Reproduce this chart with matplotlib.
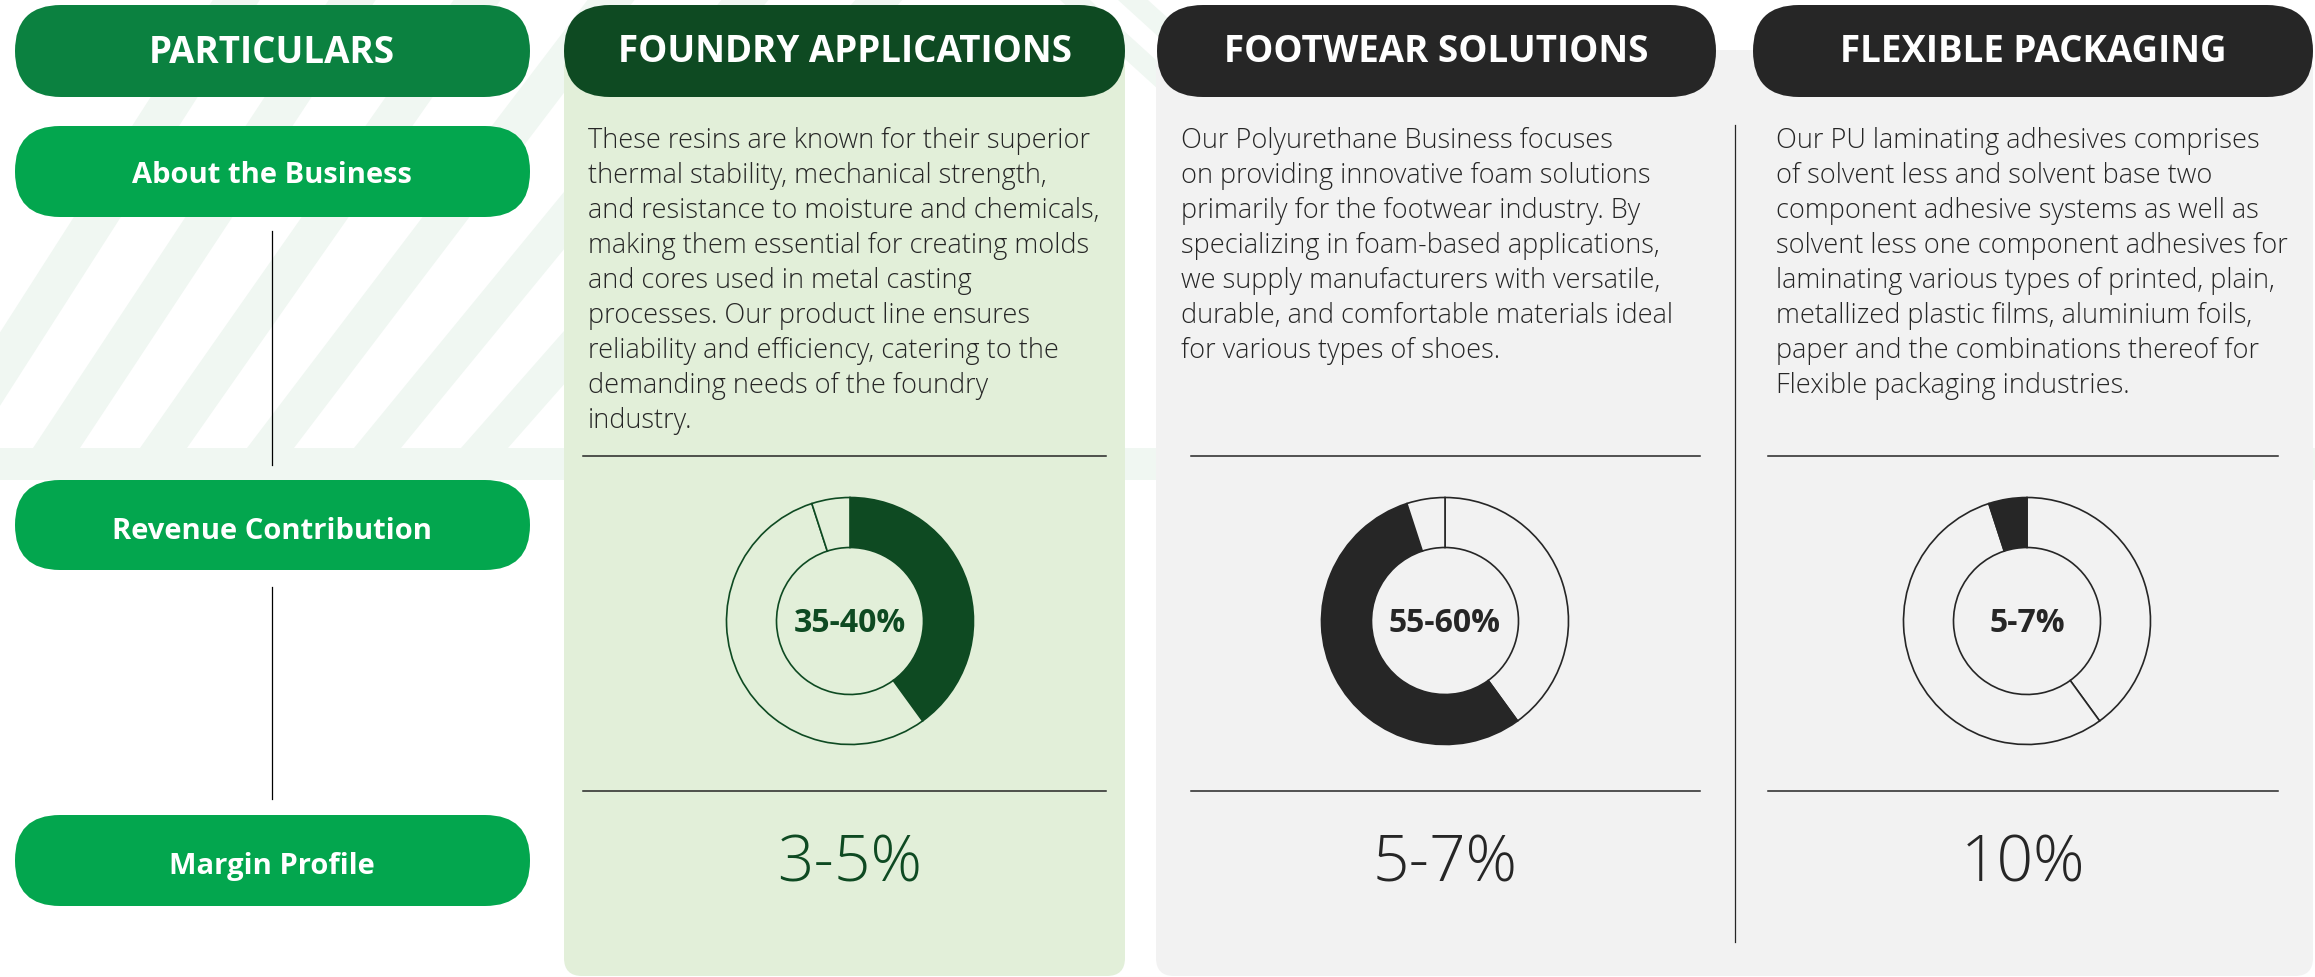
import matplotlib
matplotlib.use("Agg")
import matplotlib.pyplot as plt
from matplotlib.patches import FancyBboxPatch, Polygon, Rectangle

# ---- data ----
segments = ["Foundry Applications", "Footwear Solutions", "Flexible Packaging"]
headers = ["FOUNDRY APPLICATIONS", "FOOTWEAR SOLUTIONS", "FLEXIBLE PACKAGING"]
row_labels = ["About the Business", "Revenue Contribution", "Margin Profile"]
donut_shares = [40, 55, 5]          # slice sizes shared by all three donuts
highlight = [0, 1, 2]               # which slice is dark in each donut
revenue_labels = ["35-40%", "55-60%", "5-7%"]
margin_labels = ["3-5%", "5-7%", "10%"]
about_text = [
    ["These resins are known for their superior",
     "thermal stability, mechanical strength,",
     "and resistance to moisture and chemicals,",
     "making them essential for creating molds",
     "and cores used in metal casting",
     "processes. Our product line ensures",
     "reliability and efficiency, catering to the",
     "demanding needs of the foundry",
     "industry."],
    ["Our Polyurethane Business focuses",
     "on providing innovative foam solutions",
     "primarily for the footwear industry. By",
     "specializing in foam-based applications,",
     "we supply manufacturers with versatile,",
     "durable, and comfortable materials ideal",
     "for various types of shoes."],
    ["Our PU laminating adhesives comprises",
     "of solvent less and solvent base two",
     "component adhesive systems as well as",
     "solvent less one component adhesives for",
     "laminating various types of printed, plain,",
     "metallized plastic films, aluminium foils,",
     "paper and the combinations thereof for",
     "Flexible packaging industries."],
]

# ---- styling ----
W, H = 2315, 977
FONT = "Open Sans"
DARK_GREEN = "#0E4A22"
MID_GREEN = "#0B8140"
BRIGHT_GREEN = "#03A64E"
CHARCOAL = "#262626"
LIGHT_GREEN_BG = "#E2EFD9"
GRAY_BG = "#F2F2F2"
STRIPE = "#F0F7F2"

col_x = [(564, 1125), (1157, 1716), (1753, 2313)]
col_dark = [DARK_GREEN, CHARCOAL, CHARCOAL]
col_bg = [LIGHT_GREEN_BG, GRAY_BG, GRAY_BG]
donut_cx = [850, 1445, 2027]
text_left = [588, 1181, 1776]
rule_x = [(583, 1106), (1191, 1700), (1768, 2278)]


def Y(y):
    # measurements are taken top-down in pixels
    return H - y


def pill(ax, x0, x1, y0, y1, color, r=46):
    ax.add_patch(FancyBboxPatch((x0, Y(y1)), x1 - x0, y1 - y0,
                                boxstyle=f"round,pad=0,rounding_size={r}",
                                fc=color, ec="none", zorder=3))


fig = plt.figure(figsize=(W / 100, H / 100), dpi=100)
ax = fig.add_axes([0, 0, 1, 1])
ax.set_facecolor("white")

# background stripes
for xb, s in [(-74, 0.64), (33, 0.66), (140, 0.70), (247, 0.76), (354, 0.82), (461, 0.88)]:
    pts = [(xb, Y(448)), (xb + 47, Y(448)), (xb + 47 + s * 448, Y(0)), (xb + s * 448, Y(0))]
    ax.add_patch(Polygon(pts, closed=True, fc=STRIPE, ec="none", zorder=0))
for xt, s in [(1118, 1.1), (1060, 1.1)]:
    pts = [(xt, Y(0)), (xt + 30, Y(0)), (xt + 30 + s * 200, Y(200)), (xt + s * 200, Y(200))]
    ax.add_patch(Polygon(pts, closed=True, fc=STRIPE, ec="none", zorder=0))
ax.add_patch(Rectangle((0, Y(480)), W, 32, fc=STRIPE, ec="none", zorder=0))

# column panels
ax.add_patch(FancyBboxPatch((564, 1), 1125 - 564, Y(50) - 1,
                            boxstyle="round,pad=0,rounding_size=18",
                            fc=LIGHT_GREEN_BG, ec="none", zorder=1))
ax.add_patch(FancyBboxPatch((1156, 1), 2313 - 1156, Y(50) - 1,
                            boxstyle="round,pad=0,rounding_size=18",
                            fc=GRAY_BG, ec="none", zorder=1))

# left column
pill(ax, 15, 530, 5, 97, MID_GREEN)
ax.text(272, Y(63), "PARTICULARS", ha="center", va="baseline", color="white",
        fontsize=26.5, fontweight="bold", family=FONT, zorder=4)
row_y = [(126, 217, 183), (480, 570, 539), (815, 906, 874)]
for label, (y0, y1, yb) in zip(row_labels, row_y):
    pill(ax, 15, 530, y0, y1, BRIGHT_GREEN, r=45)
    ax.text(272, Y(yb), label, ha="center", va="baseline", color="white",
            fontsize=21, fontweight="bold", family=FONT, zorder=4)
ax.plot([272, 272], [Y(231), Y(465)], color="black", lw=0.9, zorder=2)
ax.plot([272, 272], [Y(587), Y(799)], color="black", lw=0.9, zorder=2)

# segment columns
for i in range(3):
    x0, x1 = col_x[i]
    pill(ax, x0, x1, 5, 97, col_dark[i])
    ax.text((x0 + x1) / 2, Y(62), headers[i], ha="center", va="baseline", color="white",
            fontsize=26.5, fontweight="bold", family=FONT, zorder=4)

    for k, line in enumerate(about_text[i]):
        ax.text(text_left[i], Y(148 + 35 * k), line, ha="left", va="baseline",
                color=CHARCOAL, fontsize=19.5, fontweight="light", family=FONT, zorder=4)

    for yr in (456, 791):
        ax.plot(rule_x[i], [Y(yr), Y(yr)], color=CHARCOAL, lw=1.1, zorder=2)

    colors = [col_dark[i] if j == highlight[i] else col_bg[i] for j in range(len(donut_shares))]
    ax.pie(donut_shares, colors=colors, startangle=90, counterclock=False,
           center=(donut_cx[i], Y(621)), radius=123.5,
           wedgeprops=dict(width=50, edgecolor=col_dark[i], linewidth=1.2, zorder=3))
    ax.text(donut_cx[i], Y(632), revenue_labels[i], ha="center", va="baseline",
            color=col_dark[i], fontsize=23, fontweight="bold", family=FONT, zorder=4)

    ax.text(donut_cx[i] - (4 if i == 2 else 0), Y(881), margin_labels[i], ha="center",
            va="baseline", color=col_dark[i], fontsize=46, fontweight="light",
            family=FONT, zorder=4)

ax.plot([1735, 1735], [Y(125), Y(942)], color=CHARCOAL, lw=0.9, zorder=2)

ax.set_xlim(0, W)
ax.set_ylim(0, H)
ax.set_aspect("auto")
ax.axis("off")
fig.savefig("out.png", dpi=100, facecolor="white")
